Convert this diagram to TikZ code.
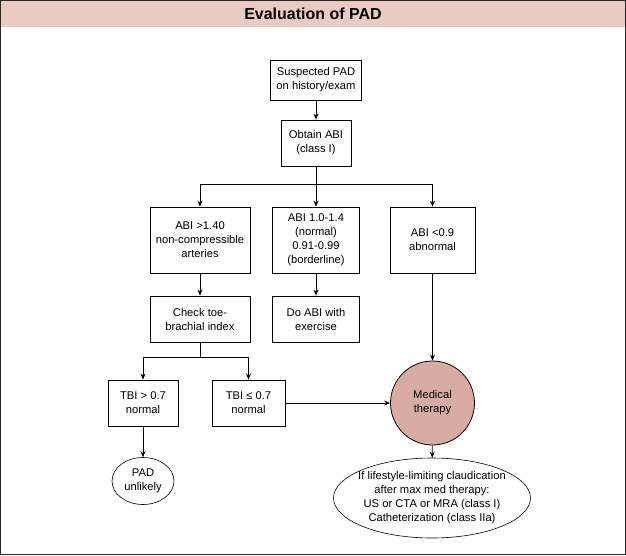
\documentclass[tikz,border=0pt]{standalone}
\usepackage{fontspec}
\setmainfont{Liberation Sans}
\usetikzlibrary{arrows.meta,positioning,shapes.geometric,calc}
\definecolor{titlepink}{RGB}{234,203,195}
\definecolor{medpink}{RGB}{217,172,163}

\begin{document}
\begin{tikzpicture}[
    x=1pt, y=-1pt,
    >={Stealth[length=6pt,width=5pt]},
    box/.style={
      rectangle,
      draw=black,
      line width=0.8pt,
      fill=white,
      align=center,
      inner sep=2pt,
      font=\fontsize{11.2}{14}\selectfont
    },
    oval/.style={
      ellipse,
      draw=black,
      line width=0.6pt,
      fill=white,
      align=center,
      inner sep=2pt,
      font=\fontsize{11.2}{14}\selectfont
    },
    arrow/.style={->, draw=black, line width=0.8pt}
  ]

  \useasboundingbox (0,0) rectangle (626,555);
  \fill[titlepink] (0,0) rectangle (626,27);
  \draw[line width=1.2pt, black!85] (0.6,0.6) rectangle (625.4,554.4);
  \node[font=\bfseries\fontsize{16}{18}\selectfont] (title) at (313,14) {Evaluation of PAD};

  \node[box, minimum width=91, minimum height=40] (susp) at (316,80) {Suspected PAD\\on history/exam};
  \node[box, minimum width=70, minimum height=46] (obt) at (316,143) {Obtain ABI\\(class I)};
  \node[box, minimum width=100, minimum height=66] (hi) at (200,240) {ABI >1.40\\non-compressible\\arteries};
  \node[box, minimum width=87, minimum height=66] (mid) at (316,240) {ABI 1.0-1.4\\(normal)\\0.91-0.99\\(borderline)};
  \node[box, minimum width=85, minimum height=66] (lo) at (432.5,240) {ABI <0.9\\abnormal};
  \node[box, minimum width=100, minimum height=46] (toe) at (200,319) {Check toe-\\brachial index};
  \node[box, minimum width=87, minimum height=46] (exer) at (316,319) {Do ABI with\\exercise};
  \node[box, minimum width=70, minimum height=46] (tbihi) at (143,403) {TBI > 0.7\\normal};
  \node[box, minimum width=73, minimum height=46] (tbilo) at (248.5,403) {TBI ≤ 0.7\\normal};
  \node[circle, draw=black, line width=0.8pt, fill=medpink, minimum size=84, align=center,
        font=\fontsize{11.2}{14}\selectfont] (med) at (432.5,403) {Medical\\therapy};
  \node[oval, minimum width=62, minimum height=47] (unl) at (143,481) {PAD\\unlikely};
  \node[oval, inner xsep=-30pt, inner ysep=0pt, minimum width=197, minimum height=80] (claud) at (432,498)
    {If lifestyle-limiting claudication\\after max med therapy:\\US or CTA or MRA (class I)\\Catheterization (class IIa)};

  \draw[arrow] (susp) -- (obt);
  \coordinate (split) at ($(obt.south)+(0,18)$);
  \draw[arrow] (obt.south) -- (split) -| (hi.north);
  \draw[arrow] (split) -| (lo.north);
  \draw[arrow] (split) -- (mid.north);
  \draw[arrow] (hi) -- (toe);
  \draw[arrow] (mid) -- (exer);
  \coordinate (tsplit) at ($(toe.south)+(0,15)$);
  \draw[arrow] (toe.south) -- (tsplit) -| (tbihi.north);
  \draw[arrow] (tsplit) -| (tbilo.north);
  \draw[arrow] (tbihi) -- (unl);
  \draw[arrow] (tbilo) -- (med);
  \draw[arrow] (lo) -- (med);
  \draw[arrow] (med) -- (claud);

\end{tikzpicture}
\end{document}
